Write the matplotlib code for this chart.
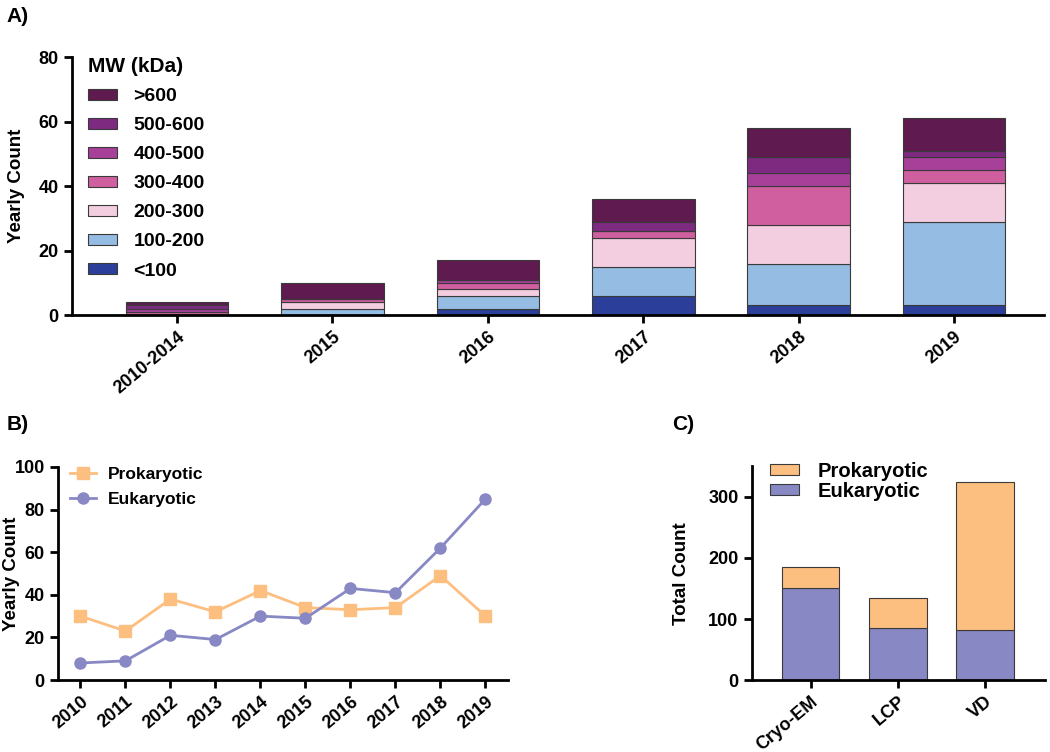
import matplotlib
matplotlib.use("Agg")
import matplotlib.pyplot as plt
from matplotlib.patches import Patch
import numpy as np

plt.rcParams['font.family'] = ['Liberation Sans', 'DejaVu Sans']
plt.rcParams['font.weight'] = 'bold'
plt.rcParams['axes.labelweight'] = 'bold'

# Panel A data: yearly counts per molecular weight bin
periods = ['2010-2014', '2015', '2016', '2017', '2018', '2019']
mw_bins = ['<100', '100-200', '200-300', '300-400', '400-500', '500-600', '>600']
mw_lt100 = [0, 0, 2, 6, 3, 3]
mw_100_200 = [0, 2, 4, 9, 13, 26]
mw_200_300 = [0, 2, 2, 9, 12, 12]
mw_300_400 = [1, 1, 2, 2, 12, 4]
mw_400_500 = [1, 0, 1, 0, 4, 4]
mw_500_600 = [1, 0, 0, 3, 5, 2]
mw_gt600 = [1, 5, 6, 7, 9, 10]
mw_colors = ['#2b3f9a', '#95bce2', '#f3cde0', '#d05fa0', '#a8409a', '#7e2a80', '#5f1a4f']

# Panel B data
years = [2010, 2011, 2012, 2013, 2014, 2015, 2016, 2017, 2018, 2019]
prok_yearly = [30, 23, 38, 32, 42, 34, 33, 34, 49, 30]
euk_yearly = [8, 9, 21, 19, 30, 29, 43, 41, 62, 85]

# Panel C data
methods = ['Cryo-EM', 'LCP', 'VD']
euk_total = [151, 85, 82]
prok_total = [34, 49, 242]

orange = '#fcbf80'
purple = '#8888c4'
edge = '#3a3a3a'


def style_axes(ax):
    for s in ['top', 'right']:
        ax.spines[s].set_visible(False)
    for s in ['left', 'bottom']:
        ax.spines[s].set_linewidth(2)
    ax.tick_params(direction='out', length=6, width=2, labelsize=13)
    for lab in ax.get_xticklabels() + ax.get_yticklabels():
        lab.set_fontweight('bold')


fig = plt.figure(figsize=(10.5, 7.52), dpi=100)

# ---- Panel A ----
axA = fig.add_axes([0.0686, 0.581, 0.926, 0.343])
x = np.arange(len(periods))
stack = [mw_lt100, mw_100_200, mw_200_300, mw_300_400, mw_400_500, mw_500_600, mw_gt600]
bottom = np.zeros(len(periods))
for vals, col in zip(stack, mw_colors):
    axA.bar(x, vals, 0.66, bottom=bottom, color=col, edgecolor=edge, linewidth=0.8)
    bottom += np.array(vals)
axA.set_xlim(-0.675, 5.58)
axA.set_ylim(0, 80)
axA.set_yticks([0, 20, 40, 60, 80])
axA.set_xticks(x)
axA.set_xticklabels(periods, rotation=40, ha='right', rotation_mode='anchor')
axA.set_ylabel('Yearly Count', fontsize=13.5)
axA.yaxis.set_label_coords(-0.048, 0.5)
style_axes(axA)
handlesA = [Patch(facecolor=c, edgecolor=edge, linewidth=0.8) for c in mw_colors][::-1]
axA.legend(handlesA, mw_bins[::-1], title='MW (kDa)', loc='upper left',
           bbox_to_anchor=(0.016, 1.0), frameon=False, fontsize=14,
           title_fontproperties={'weight': 'bold', 'size': 15},
           borderpad=0, borderaxespad=0,
           handlelength=1.5, handleheight=0.5, handletextpad=0.85,
           labelspacing=0.62, alignment='left')
fig.text(0.006, 0.971, 'A)', fontsize=15, fontweight='bold')

# ---- Panel B ----
axB = fig.add_axes([0.0552, 0.0957, 0.4286, 0.2833])
axB.plot(years, prok_yearly, color=orange, marker='s', markersize=8, linewidth=2,
         label='Prokaryotic')
axB.plot(years, euk_yearly, color=purple, marker='o', markersize=8, linewidth=2,
         label='Eukaryotic')
axB.set_xlim(2009.5, 2019.5)
axB.set_ylim(0, 100)
axB.set_yticks([0, 20, 40, 60, 80, 100])
axB.set_xticks(years)
axB.set_xticklabels([str(y) for y in years], rotation=40, ha='right', rotation_mode='anchor')
axB.set_ylabel('Yearly Count', fontsize=13.5)
axB.yaxis.set_label_coords(-0.084, 0.5)
style_axes(axB)
axB.legend(loc='upper left', bbox_to_anchor=(0.027, 1.0), frameon=False, fontsize=12.5,
           borderpad=0, borderaxespad=0,
           handlelength=1.5, handletextpad=0.7, labelspacing=0.55)
fig.text(0.006, 0.428, 'B)', fontsize=15, fontweight='bold')

# ---- Panel C ----
axC = fig.add_axes([0.716, 0.0957, 0.279, 0.284])
xc = np.arange(len(methods))
axC.bar(xc, euk_total, 0.66, color=purple, edgecolor=edge, linewidth=0.8, label='Eukaryotic')
axC.bar(xc, prok_total, 0.66, bottom=euk_total, color=orange, edgecolor=edge, linewidth=0.8,
        label='Prokaryotic')
axC.set_xlim(-0.677, 2.687)
axC.set_ylim(0, 350)
axC.set_yticks([0, 100, 200, 300])
axC.set_xticks(xc)
axC.set_xticklabels(methods, rotation=40, ha='right', rotation_mode='anchor')
axC.set_ylabel('Total Count', fontsize=13.5)
axC.yaxis.set_label_coords(-0.21, 0.5)
style_axes(axC)
hC = [Patch(facecolor=orange, edgecolor=edge, linewidth=0.8),
      Patch(facecolor=purple, edgecolor=edge, linewidth=0.8)]
axC.legend(hC, ['Prokaryotic', 'Eukaryotic'], loc='upper left', bbox_to_anchor=(0.062, 1.023),
           frameon=False, fontsize=14.5, borderpad=0, borderaxespad=0,
           handlelength=1.45, handleheight=0.45, handletextpad=0.9, labelspacing=0.05)
fig.text(0.64, 0.428, 'C)', fontsize=15, fontweight='bold')

fig.savefig('out.png', dpi=100)
